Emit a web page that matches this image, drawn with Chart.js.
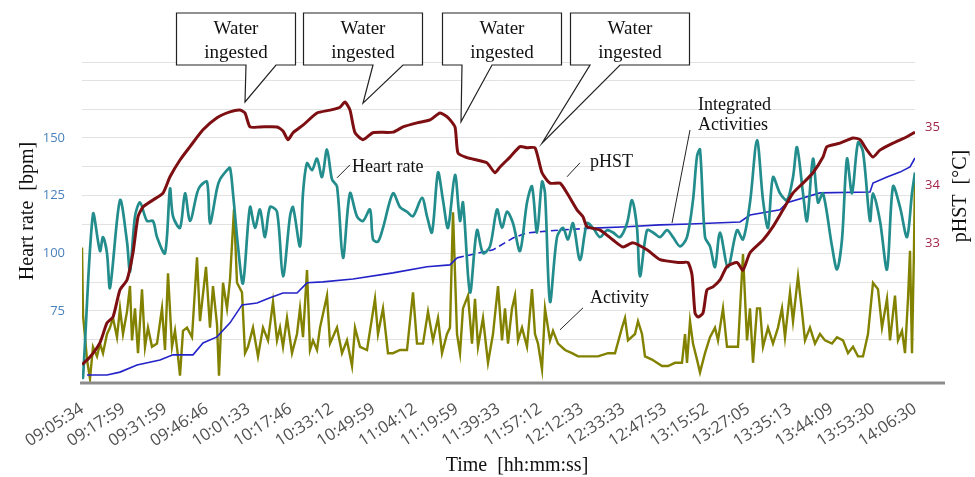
<!DOCTYPE html>
<html><head><meta charset="utf-8">
<script src="https://cdn.jsdelivr.net/npm/chart.js@4.4.1/dist/chart.umd.min.js"></script>
<style>html,body{margin:0;padding:0;background:#fff;}#wrap{width:975px;height:477px;}</style>
</head><body><div id="wrap"><canvas id="c" width="975" height="477"></canvas></div>
<script>
// ---- data ----
const timeLabels = ["09:05:34","09:17:59","09:31:59","09:46:46","10:01:33","10:17:46","10:33:12","10:49:59","11:04:12","11:19:59","11:39:33","11:57:12","12:12:33","12:33:33","12:47:53","13:15:52","13:27:05","13:35:13","13:44:09","13:53:30","14:06:30"];
const sampleCount = 833;

const hrSample = [0,1,11,18,21,25,28,38,45,48,53,
 58,65,71,75,83,88,91,98,103,108,
 115,118,125,128,135,138,145,148,151,156,
 161,168,173,178,183,188,195,201,208,211,
 218,221,225,230,235,240,245,250,255,261,
 268,275,281,288,291,296,301,311,318,325,
 331,340,345,350,356,361,366,373,378,381,
 388,395,401,408,415,420,425,431,438,445,
 450,455,460,463,468,475,481,486,491,498,
 505,511,518,525,531,538,545,550,555,558,
 565,571,578,585,591,598,605,611,615,618,
 623,628,633,638,646,655,661,668,675,681,
 686,691,698,705,711,715,721,725,731,736,
 741,750,755,760,765,770,776,781,788,791,
 798,805,811,818,825,830,833];
const hrBpm = [46,46,117,101,107,100,85,123,105,92,116,
 122,114,114,107,100,128,116,111,126,114,
 126,129,131,113,128,132,136,137,126,103,
 87,120,111,119,107,120,118,90,116,120,
 103,126,139,136,141,133,145,132,129,98,
 126,116,114,119,106,105,111,126,120,118,
 116,124,116,109,135,123,111,134,114,122,
 83,110,100,103,119,111,118,113,101,122,
 129,109,131,126,79,107,111,106,113,97,
 113,111,107,110,109,107,113,123,111,90,
 110,109,107,110,107,103,107,123,142,145,
 107,103,94,109,94,110,106,122,149,123,
 111,133,126,123,133,146,126,114,141,122,
 126,103,93,106,141,126,148,144,114,126,
 114,93,129,120,107,126,135];

const tempSample = [0,8,18,25,31,38,45,51,56,61,71,81,88,98,108,121,135,148,158,163,
 168,178,195,201,206,211,221,235,248,258,263,268,273,281,291,311,321,335,348,358,
 366,373,376,385,395,405,413,418,428,438,445,453,460,468,478,485,495,501,505,518,
 531,541,551,565,578,598,606,610,613,616,621,625,631,638,645,655,661,668,681,691,
 701,711,721,731,741,745,758,771,778,785,791,798,811,825,833];
const tempC = [30.90,31.03,31.28,31.62,31.72,32.19,32.36,32.83,33.45,33.62,33.74,33.86,34.14,34.43,34.66,34.95,35.16,35.26,35.29,35.24,
 35.00,35.00,35.00,34.93,34.78,34.90,35.03,35.24,35.29,35.34,35.43,35.29,34.90,34.78,34.90,34.91,35.00,35.07,35.12,35.24,
 35.16,35.00,34.55,34.47,34.43,34.38,34.21,34.31,34.48,34.66,34.64,34.64,34.21,34.03,34.03,33.86,33.57,33.45,33.28,33.22,
 33.05,32.93,33.00,32.88,32.71,32.66,32.66,32.45,31.79,31.72,31.79,32.19,32.24,32.36,32.59,32.66,32.53,32.83,33.05,33.28,
 33.57,33.86,34.03,34.21,34.48,34.66,34.72,34.81,34.78,34.60,34.48,34.60,34.72,34.83,34.91];

const actSample = [0,1,5,8,11,15,18,21,25,28,
 31,35,38,41,45,48,50,53,56,60,
 63,66,70,75,80,83,86,90,93,96,
 98,101,105,110,115,118,124,128,131,135,
 137,141,145,148,152,155,160,163,166,171,
 176,181,186,191,195,198,201,205,210,215,
 218,221,225,228,231,235,238,245,248,255,
 260,265,270,273,278,285,293,296,301,306,
 311,318,325,331,335,341,346,351,356,360,
 365,368,371,375,378,381,386,390,393,396,
 401,406,411,416,420,423,426,430,433,436,
 440,445,450,453,456,460,463,468,471,476,
 483,490,496,506,516,526,533,540,543,546,
 553,556,560,563,570,580,586,593,600,603,
 605,608,611,615,618,623,628,633,636,641,
 645,650,656,661,665,668,671,675,678,681,
 686,691,696,700,703,708,711,716,720,723,
 728,733,738,743,750,755,761,766,771,776,
 781,786,791,796,800,805,808,813,816,820,
 823,826,828,830,832,833];
const actLevel = [42,21,7,1,11,8,12,9,15,17,
 20,14,23,15,22,30,13,23,9,29,
 11,17,11,12,23,10,34,11,16,8,
 2,16,17,14,39,19,36,17,30,18,
 2,31,23,32,54,31,28,9,11,17,
 8,17,13,25,13,17,11,20,9,15,
 23,14,35,10,13,10,17,27,12,17,
 9,13,5,17,11,10,26,15,23,9,
 9,10,10,28,12,12,22,13,20,9,
 15,17,53,15,9,23,27,12,26,11,
 20,6,15,30,13,23,12,23,27,13,
 17,11,29,15,12,4,23,13,16,12,
 10,9,8,8,8,9,9,17,20,13,
 15,19,15,8,7,5,5,6,6,15,
 6,19,12,7,3,9,14,17,13,23,
 11,11,11,40,13,23,6,23,23,11,
 17,12,17,23,14,28,19,33,22,13,
 17,12,15,13,12,14,13,9,11,8,
 8,15,31,29,17,26,13,27,13,16,
 9,26,41,9,42,65];

const intSample = [5,25,38,55,78,91,111,121,135,148,160,175,188,201,215,225,241,271,311,345,
 368,375,411,431,445,478,511,545,578,608,658,668,698,705,738,788,791,805,818,828,833];
const intLevel = [0,0,0.9,3.1,4.7,6.3,6.3,10.0,11.9,16.3,21.9,22.5,24.1,25.6,25.6,28.8,29.1,30.0,31.9,33.8,
 34.4,36.6,39.1,42.8,44.4,45.3,45.9,46.3,46.9,47.2,47.8,50.0,51.6,53.8,56.9,57.2,60.0,61.9,63.4,65.0,67.8];

const leftTickLabels = [75,100,125,150];
const rightTickLabels = [33,34,35];

// "Water ingested" events: sample and pHST level the callout points at
const waterSample = [163,281,379,460];
const waterTemp = [35.43,35.41,35.09,34.72];
const waterBoxSample = [154,281,420,548];
const waterBaseDx = [10,10,-40,-40];

// ---- chart ----
const serif = '"Liberation Serif", "Times New Roman", serif';
const pts = (xs, ys) => xs.map((x,i)=>({x:x, y:ys[i]}));

const decor = {
  id:'decor',
  afterDraw(chart){
    const ctx = chart.ctx, ca = chart.chartArea, sc = chart.scales;
    ctx.save();
    ctx.strokeStyle = '#8c8c8c'; ctx.lineWidth = 3;
    ctx.beginPath(); ctx.moveTo(ca.left-2, ca.bottom+1); ctx.lineTo(945, ca.bottom+1); ctx.stroke();

    ctx.fillStyle = '#111'; ctx.font = '20px ' + serif;
    ctx.textAlign = 'center'; ctx.textBaseline = 'middle';
    ctx.save(); ctx.translate(28, 211); ctx.rotate(-Math.PI/2); ctx.fillText('Heart rate  [bpm]', 0, 0); ctx.restore();
    ctx.save(); ctx.translate(961, 196); ctx.rotate(-Math.PI/2); ctx.fillText('pHST  [°C]', 0, 0); ctx.restore();
    ctx.fillText('Time  [hh:mm:ss]', 517, 466);

    ctx.font = '19px ' + serif; ctx.lineWidth = 1.2; ctx.strokeStyle = '#222';
    for (let i=0;i<waterSample.length;i++){
      const tx = sc.x.getPixelForValue(waterSample[i]);
      const ty = sc.yT.getPixelForValue(waterTemp[i]);
      const cx = sc.x.getPixelForValue(waterBoxSample[i]);
      const w = 119, h = 52, top = 13;
      const l = cx - w/2, r = cx + w/2, b = top + h;
      const b1 = cx + waterBaseDx[i], b2 = b1 + 30;
      ctx.beginPath();
      ctx.moveTo(l, top); ctx.lineTo(r, top); ctx.lineTo(r, b); ctx.lineTo(b2, b);
      ctx.lineTo(tx, ty); ctx.lineTo(b1, b); ctx.lineTo(l, b); ctx.closePath();
      ctx.fillStyle = '#fff'; ctx.fill(); ctx.stroke();
      ctx.fillStyle = '#111'; ctx.textAlign = 'center'; ctx.textBaseline = 'alphabetic';
      ctx.fillText('Water', cx, top + 21);
      ctx.fillText('ingested', cx, top + 45);
    }

    ctx.font = '18px ' + serif; ctx.textAlign = 'left'; ctx.textBaseline = 'alphabetic';
    ctx.lineWidth = 1; ctx.strokeStyle = '#222'; ctx.fillStyle = '#111';
    const lab = (x, y, lx, ly, lines, tdx, tdy) => {
      ctx.beginPath(); ctx.moveTo(x, y); ctx.lineTo(x+lx, y+ly); ctx.stroke();
      lines.forEach((t,k)=>ctx.fillText(t, x+tdx, y+tdy + k*20));
    };
    lab(sc.x.getPixelForValue(255), sc.yHR.getPixelForValue(132.7), 13, -13, ['Heart rate'], 15, -6);
    lab(sc.x.getPixelForValue(485), sc.yT.getPixelForValue(34.14), 13, -14, ['pHST'], 23, -10);
    lab(sc.x.getPixelForValue(478), sc.yAct.getPixelForValue(16.3), 23, -22, ['Activity'], 30, -27);
    lab(sc.x.getPixelForValue(590), sc.yInt.getPixelForValue(47.5), 18, -93, ['Integrated','Activities'], 26, -113);
    ctx.restore();
  }
};

new Chart(document.getElementById('c'), {
  type:'line',
  data:{ datasets:[
    {label:'pHST', data:pts(tempSample,tempC), yAxisID:'yT', borderColor:'#7d0f12', borderWidth:3, pointRadius:0, tension:0.2},
    {label:'Heart rate', data:pts(hrSample,hrBpm), yAxisID:'yHR', borderColor:'#238c8c', borderWidth:2.7, pointRadius:0, tension:0.3},
    {label:'Integrated Activities', data:pts(intSample,intLevel), yAxisID:'yInt', borderColor:'#2323c8', borderWidth:1.6, pointRadius:0, tension:0,
      segment:{borderDash: c => (c.p0.parsed.x >= 375 && c.p1.parsed.x <= 511) ? [7,4] : undefined}},
    {label:'Activity', data:pts(actSample,actLevel), yAxisID:'yAct', borderColor:'#828200', borderWidth:2.4, pointRadius:0, tension:0}
  ]},
  options:{
    responsive:false, animation:false, devicePixelRatio:1,
    layout:{padding:{top:62,left:0,right:0,bottom:0}},
    plugins:{legend:{display:false}, tooltip:{enabled:false}},
    scales:{
      x:{type:'linear', min:0, max:sampleCount,
        afterBuildTicks: s => { s.ticks = timeLabels.map((t,i)=>({value:i*sampleCount/(timeLabels.length-1)})); },
        ticks:{autoSkip:false, maxRotation:33, minRotation:33, padding:17, color:'#505050',
          font:{family:'"Open Sans", sans-serif', size:16.5}, callback:(v,i)=>timeLabels[i]},
        grid:{display:false, drawTicks:false}, border:{display:false},
        afterFit: s => { s.height = 95; }},
      yHR:{position:'left', min:44.2, max:182.9,
        ticks:{stepSize:12.5, padding:17, color:'#4a82bd', font:{family:'"Open Sans", sans-serif', size:13},
          callback: v => leftTickLabels.includes(v) ? String(v) : ''},
        grid:{color:'#e2e2e2', lineWidth:1, drawTicks:false}, border:{display:false},
        afterFit: s => { s.width = 82; }},
      yT:{position:'right', min:30.6, max:36.12,
        afterBuildTicks: s => { s.ticks = rightTickLabels.map(v=>({value:v})); },
        ticks:{padding:10, color:'#a3264a', font:{family:'"Open Sans", sans-serif', size:13}},
        grid:{drawOnChartArea:false, drawTicks:false}, border:{display:false},
        afterFit: s => { s.width = 60; }},
      yAct:{display:false, min:0, max:100},
      yInt:{display:false, min:-2.19, max:97.8}
    }
  },
  plugins:[decor]
});
</script></body></html>
